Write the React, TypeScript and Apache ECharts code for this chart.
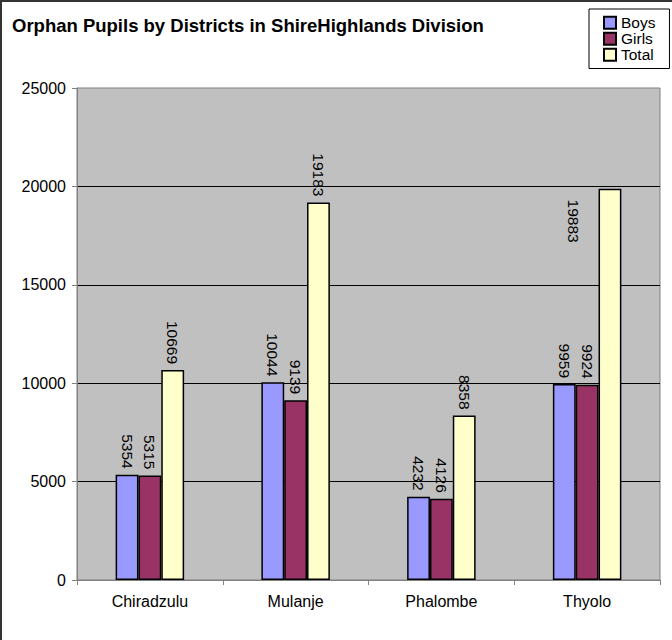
import React, { useEffect, useRef } from "react";
import * as echarts from "echarts";

const categories = ["Chiradzulu", "Mulanje", "Phalombe", "Thyolo"];
const boys = [5354, 10044, 4232, 9959];
const girls = [5315, 9139, 4126, 9924];
const total = [10669, 19183, 8358, 19883];
const seriesNames = ["Boys", "Girls", "Total"];
const seriesColors = ["#9999FF", "#993366", "#FFFFCC"];
const yMin = 0;
const yMax = 25000;
const yInterval = 5000;

const FONT = "'Liberation Sans', Arial, sans-serif";

export default function App() {
  const ref = useRef<HTMLDivElement>(null);
  useEffect(() => {
    document.body.style.margin = "0";
    if (!ref.current) return;
    const chart = echarts.init(ref.current, undefined, { renderer: "svg" });
    const labelBase = {
      show: true,
      position: "top",
      distance: 6,
      rotate: -90,
      align: "right",
      verticalAlign: "middle",
      color: "#000",
      fontSize: 15.5,
      fontFamily: FONT,
    };
    const mk = (name: string, data: any[], color: string) => ({
      name,
      type: "bar",
      data,
      barGap: "0%",
      barCategoryGap: "53%",
      itemStyle: { color, borderColor: "#000", borderWidth: 1.5 },
      label: labelBase,
    });
    const totalData = total.map((v, i) =>
      i === 3
        ? {
            value: v,
            label: {
              position: [-25, 54],
              align: "right",
              verticalAlign: "middle",
            },
          }
        : v
    );
    chart.setOption({
      animation: false,
      backgroundColor: "#fff",
      textStyle: { fontFamily: FONT },
      title: {
        text: "Orphan Pupils by Districts in ShireHighlands Division",
        left: 12,
        top: 16,
        padding: 0,
        textStyle: {
          fontSize: 18.5,
          fontWeight: "bold",
          color: "#000",
          fontFamily: FONT,
        },
      },
      legend: {
        orient: "vertical",
        left: 589,
        top: 9,
        padding: [5.75, 14, 5.75, 14],
        itemGap: 0,
        itemWidth: 12,
        itemHeight: 12,
        icon: "rect",
        borderColor: "#000",
        borderWidth: 1,
        backgroundColor: "#fff",
        textStyle: {
          fontSize: 15.5,
          color: "#000",
          fontFamily: FONT,
        },
        data: seriesNames,
      },
      grid: {
        left: 77,
        right: 12,
        top: 88,
        bottom: 60,
        show: true,
        backgroundColor: "#C0C0C0",
        borderColor: "#808080",
        borderWidth: 1,
      },
      xAxis: {
        type: "category",
        data: categories,
        boundaryGap: true,
        axisLine: { show: true, lineStyle: { color: "#808080", width: 1 } },
        axisTick: { show: true, length: 5, lineStyle: { color: "#808080" } },
        axisLabel: {
          margin: 13,
          fontSize: 16,
          color: "#000",
          fontFamily: FONT,
        },
        splitLine: { show: false },
      },
      yAxis: {
        type: "value",
        min: yMin,
        max: yMax,
        interval: yInterval,
        axisLine: { show: true, lineStyle: { color: "#808080", width: 1 } },
        axisTick: { show: true, length: 5, lineStyle: { color: "#808080" } },
        axisLabel: {
          margin: 11,
          fontSize: 16,
          color: "#000",
          fontFamily: FONT,
          formatter: (v: number) => String(v),
        },
        splitLine: {
          show: true,
          showMaxLine: false,
          lineStyle: { color: "#000", width: 1 },
        },
      },
      graphic: [
        {
          type: "rect",
          shape: { x: 1, y: 1, width: 720, height: 720 },
          style: { fill: "none", stroke: "#333", lineWidth: 2 },
          silent: true,
          z: 100,
        },
      ],
      series: [
        mk(seriesNames[0], boys, seriesColors[0]),
        mk(seriesNames[1], girls, seriesColors[1]),
        mk(seriesNames[2], totalData, seriesColors[2]),
      ],
    });
    return () => chart.dispose();
  }, []);
  return <div ref={ref} style={{ width: 672, height: 640 }} />;
}
